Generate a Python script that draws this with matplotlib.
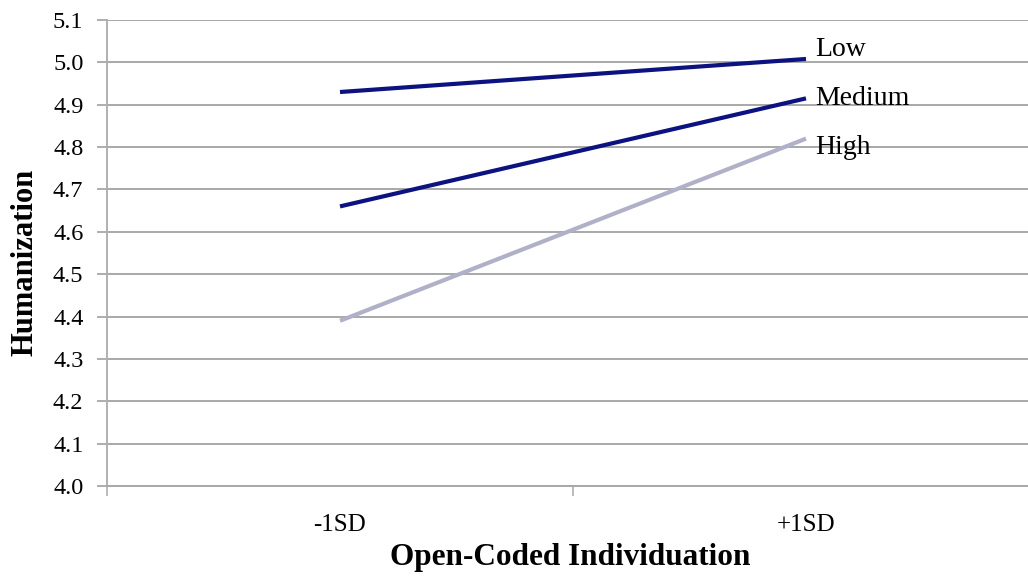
import matplotlib.pyplot as plt
from matplotlib.ticker import FixedLocator

# data
categories = ['-1SD', '+1SD']
low = [4.93, 5.008]
medium = [4.66, 4.915]
high = [4.39, 4.82]
series_names = ['Low', 'Medium', 'High']

plt.rcParams['font.family'] = ['Liberation Serif', 'DejaVu Serif']

fig = plt.figure(figsize=(10.28, 5.76), dpi=100)
# axes slightly wider than the figure, like the original (right part is cut off)
ax = fig.add_axes([107 / 1028, (576 - 486) / 576, 932 / 1028, 466 / 576])

x = list(range(len(categories)))
colors = ['#0c1280', '#0c1280', '#b0b0c8']
for ys, c in zip([low, medium, high], colors):
    ax.plot(x, ys, color=c, linewidth=3.0, solid_capstyle='butt')

# labels next to the line ends
label_y = [5.03, 4.915, 4.80]
for name, yy in zip(series_names, label_y):
    ax.text(1.02, yy, name, fontsize=20, va='center', ha='left')

ax.set_xlim(-0.5, 1.5)
ax.set_ylim(4.0, 5.1)
ax.set_yticks([4.0 + 0.1 * i for i in range(12)])
ax.set_yticklabels([f'{4.0 + 0.1 * i:.1f}' for i in range(12)], fontsize=17.5)
ax.set_xticks(x)
ax.set_xticklabels(categories, fontsize=18)
ax.tick_params(axis='x', which='major', length=0, pad=20)
ax.xaxis.set_minor_locator(FixedLocator([-0.5, 0.5, 1.5]))
ax.tick_params(axis='x', which='minor', length=7, color='#b0b0b0', width=1.2)
ax.tick_params(axis='y', length=7, color='#a0a0a0', width=1.2, pad=10)

ax.grid(True, axis='y', color='#a8a8a8', linewidth=1.4)
ax.set_axisbelow(True)
for s in ['top', 'right']:
    ax.spines[s].set_visible(False)
ax.spines['left'].set_color('#b0b0b0')
ax.spines['left'].set_linewidth(1.4)
ax.spines['bottom'].set_color('#a8a8a8')
ax.spines['bottom'].set_linewidth(1.4)

fig.text(570 / 1028, 1 - 557 / 576, 'Open-Coded Individuation', fontsize=22.5,
         fontweight='bold', ha='center', va='center')
fig.text(25 / 1028, 1 - 262 / 576, 'Humanization', fontsize=22,
         fontweight='bold', ha='center', va='center', rotation=90)

plt.savefig('out.png', dpi=100)
